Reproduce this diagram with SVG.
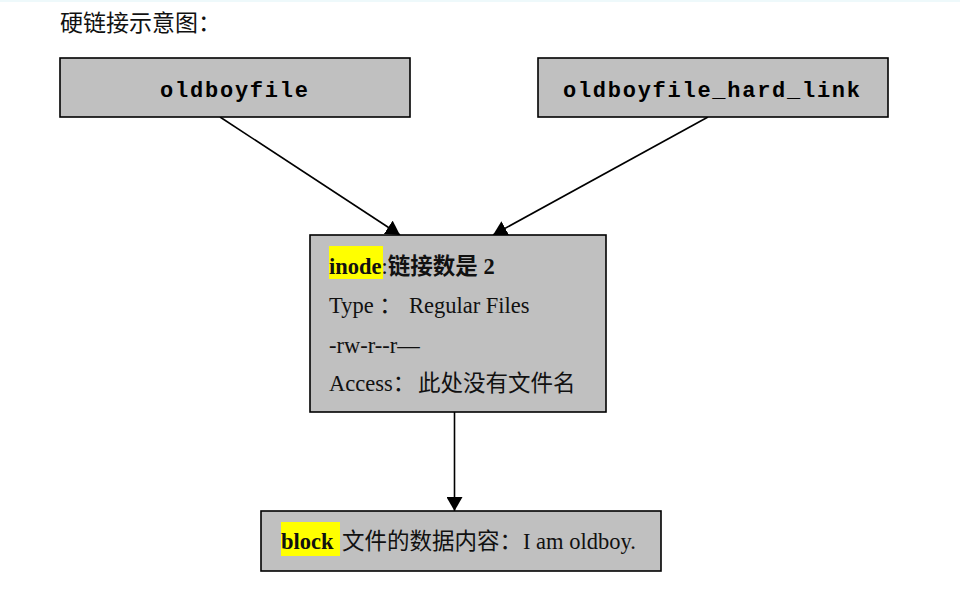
<svg xmlns="http://www.w3.org/2000/svg" width="960" height="594" viewBox="0 0 960 594">
<style>
.box{fill:#c0c0c0;stroke:#000;stroke-width:1.6}
.mono{font-family:"Liberation Mono","DejaVu Sans Mono",monospace;font-size:22px;font-weight:bold;fill:#000}
.ser{font-family:"Liberation Serif","Noto Sans CJK SC",serif;font-size:22.5px;fill:#111}
.cjk{font-family:"Noto Sans CJK SC",sans-serif}
.b{font-weight:bold}
.hl{fill:#ffff00}
.edge{stroke:#000;stroke-width:1.6;fill:none}
</style>
<defs>
<marker id="ah" viewBox="0 0 14 16" refX="14" refY="8" markerWidth="14" markerHeight="16" markerUnits="userSpaceOnUse" orient="auto">
<path d="M0,0 L14,8 L0,16 Z" fill="#000"/>
</marker>
</defs>
<rect x="0" y="0" width="960" height="594" fill="#fff"/>
<rect x="0" y="0" width="960" height="2" fill="#eef9fb"/>
<text x="60" y="31" font-family="Noto Sans CJK SC,sans-serif" font-size="23" fill="#111">硬链接示意图：</text>
<g id="connectors">
<line class="edge" x1="220" y1="117" x2="400" y2="235" marker-end="url(#ah)"/>
<line class="edge" x1="708" y1="117" x2="493" y2="235" marker-end="url(#ah)"/>
<line class="edge" x1="454.5" y1="412" x2="454.5" y2="511" marker-end="url(#ah)"/>
</g>
<g id="node-oldboyfile">
<rect class="box" x="60" y="58" width="350" height="59"/>
<text class="mono" x="160" y="97" textLength="148" lengthAdjust="spacing">oldboyfile</text>
</g>
<g id="node-hardlink">
<rect class="box" x="538" y="58" width="350" height="59"/>
<text class="mono" x="563" y="97" textLength="297" lengthAdjust="spacing">oldboyfile_hard_link</text>
</g>
<g id="node-inode">
<rect class="box" x="310" y="235" width="296" height="177"/>
<rect class="hl" x="329" y="246" width="54" height="33"/>
<text class="ser b" x="329" y="274">inode<tspan font-weight="normal">:</tspan><tspan class="cjk">链接数是</tspan> 2</text>
<text class="ser" x="329" y="313">Type <tspan class="cjk">：</tspan><tspan x="409">Regular Files</tspan></text>
<text class="ser" x="329" y="353">-rw-r--r—</text>
<text class="ser" x="329" y="391">Access<tspan class="cjk">：</tspan><tspan class="cjk" x="418">此处没有文件名</tspan></text>
</g>
<g id="node-block">
<rect class="box" x="261" y="511" width="400" height="60"/>
<rect class="hl" x="281" y="522" width="59" height="34"/>
<text class="ser" x="281" y="549"><tspan class="b">block</tspan><tspan class="cjk" x="342">文件的数据内容：</tspan><tspan x="523">I am oldboy.</tspan></text>
</g>
</svg>
